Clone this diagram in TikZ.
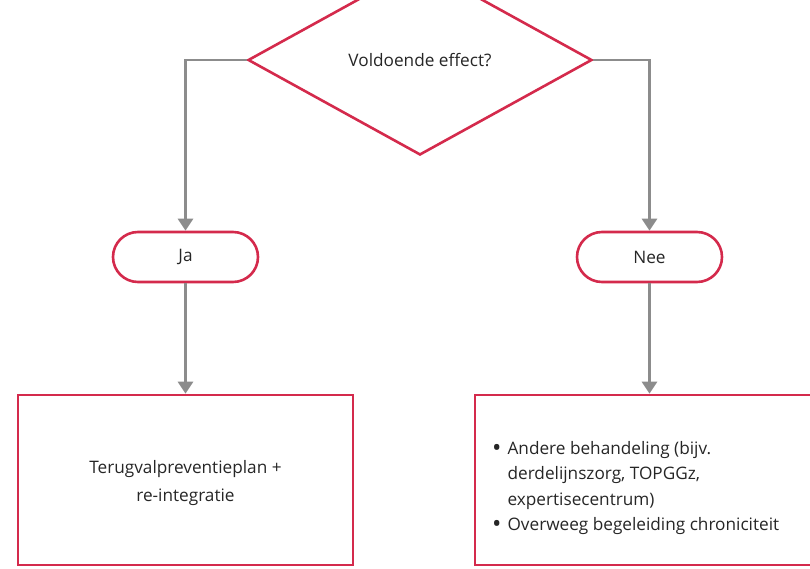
\documentclass[tikz,border=0pt]{standalone}
\usepackage{fontspec}
\setmainfont{Open Sans}
\usetikzlibrary{arrows.meta,shapes.geometric,shapes.misc}
\definecolor{rored}{HTML}{D42A4C}
\definecolor{linegray}{HTML}{8C8C8C}
\definecolor{txt}{HTML}{262626}
\newcommand{\bigdot}{\raisebox{-2.4pt}{\scalebox{1.45}{\textbullet}}}
\begin{document}
\begin{tikzpicture}[x=1pt,y=-1pt,
  every node/.style={font=\fontsize{17.2}{25.5}\selectfont, text=txt},
  decision/.style={diamond, draw=rored, line width=2.6pt, minimum width=344pt, minimum height=190pt, inner sep=0pt},
  term/.style={rounded rectangle, draw=rored, line width=2.6pt, minimum width=145pt, minimum height=50pt, inner sep=0pt},
  outcome/.style={rectangle, draw=rored, line width=2.6pt, inner sep=0pt},
  conn/.style={draw=linegray, line width=2.8pt, -{Triangle[length=12pt,width=15pt]}}
]
\useasboundingbox (0,0) rectangle (810,569);

% decision
\node[decision] (q) at (420,60) {Voldoende effect?};

% answers
\node[term] (ja) at (185.5,257) {Ja};
\node[term] (nee) at (649.5,257) {Nee};

% outcomes
\node[outcome, minimum width=335pt, minimum height=170pt] (b1) at (185.5,480)
  {};
\node[align=center, font=\fontsize{17.2}{27.5}\selectfont] (t1) at ([yshift=-3pt]b1.center) {Terugvalpreventieplan +\\re-integratie};
\node[outcome, minimum width=345pt, minimum height=170pt] (b2) at (647.5,480) {};
\node[anchor=north west, inner sep=0pt] (t2) at (492,436)
  {\begin{tabular}{@{}l@{\hspace{6pt}}l@{}}
   \bigdot & Andere behandeling (bijv.\\
           & derdelijnszorg, TOPGGz,\\
           & expertisecentrum)\\
   \bigdot & Overweeg begeleiding chroniciteit
   \end{tabular}};

% connectors
\draw[conn] (q.west) -| (ja.north);
\draw[conn] (q.east) -| (nee.north);
\draw[conn] (ja.south) -- (ja.south |- b1.north);
\draw[conn] (nee.south) -- (nee.south |- b2.north);
\end{tikzpicture}
\end{document}
